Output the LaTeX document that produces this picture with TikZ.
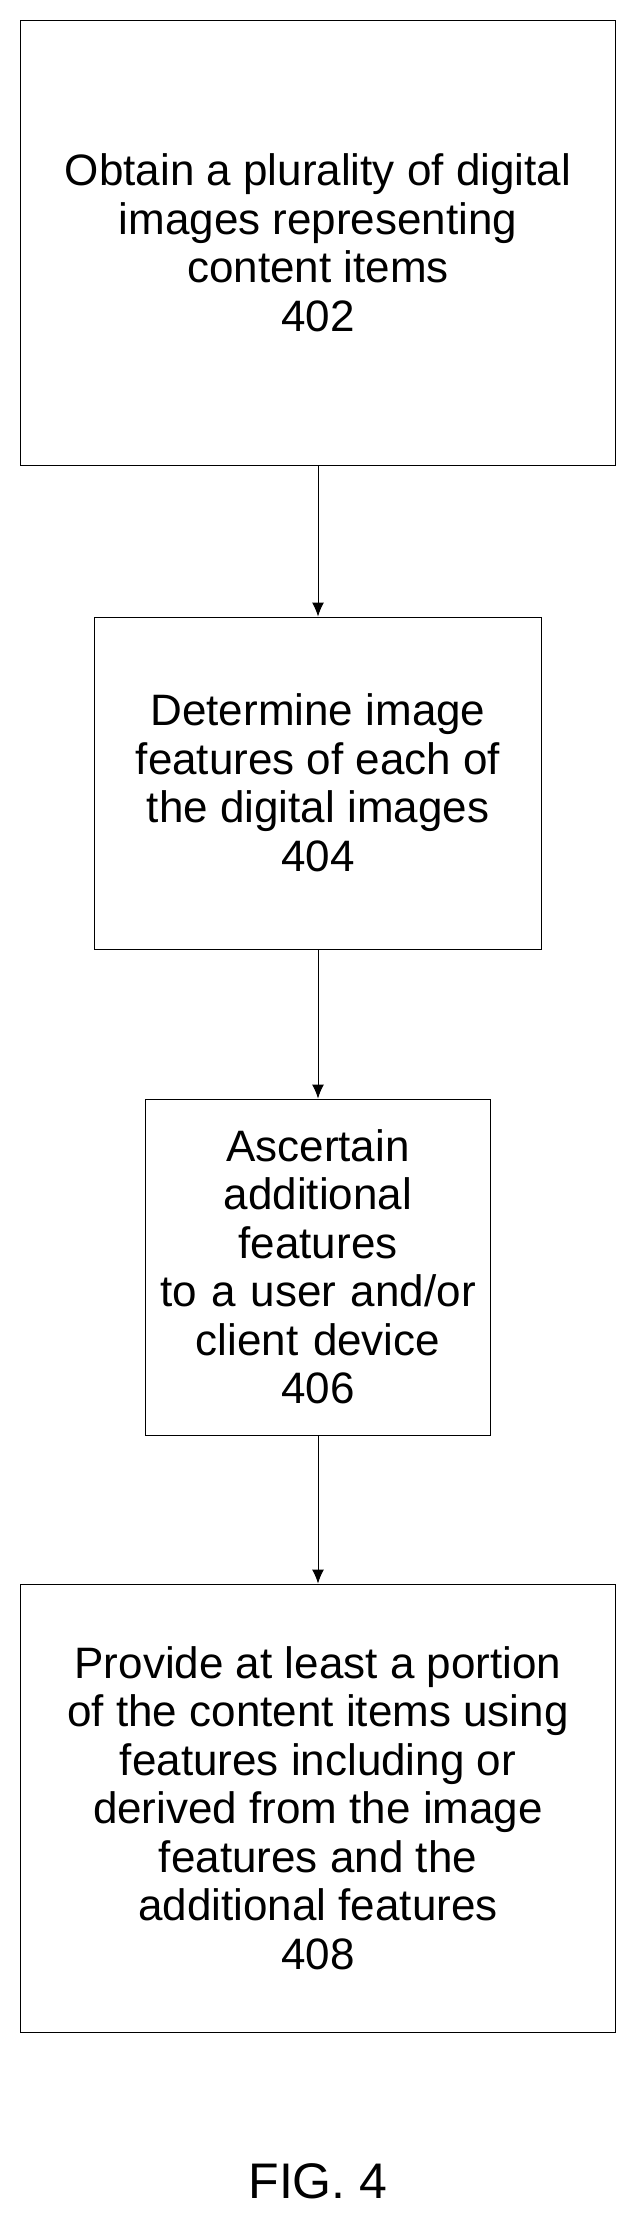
\documentclass[tikz,border=0pt]{standalone}
\usepackage{fontspec}
\setmainfont{Liberation Sans}
\usetikzlibrary{arrows.meta}
\begin{document}
\begin{tikzpicture}[x=1pt,y=-1pt,
    stepbox/.style={draw, line width=1pt, align=center, inner sep=0pt,
        font=\fontsize{44}{48.5}\selectfont},
    flow/.style={-{Latex[length=14pt,width=12pt]}, line width=1pt}]

    \useasboundingbox (0,0) rectangle (641,2238);

    % Steps
    \node[stepbox, minimum width=595, minimum height=445] (obtain) at (318,243)
        {Obtain a plurality of digital\\images representing\\content items\\402};
    \node[stepbox, minimum width=447, minimum height=332] (determine) at (318,783)
        {Determine image\\features of each of\\the digital images\\404};
    \node[stepbox, text width=345, minimum height=336] (ascertain) at (318,1267)
        {Ascertain\\additional features\\to a user and/or\\client device\\406};
    \node[stepbox, minimum width=595, minimum height=448] (provide) at (318,1808)
        {Provide at least a portion\\of the content items using\\features including or\\derived from the image\\features and the\\additional features\\408};

    % Figure label
    \node[font=\fontsize{50}{50}\selectfont] (fig) at (318,2181) {FIG. 4};

    % Connectors
    \draw[flow] (obtain) -- (determine);
    \draw[flow] (determine) -- (ascertain);
    \draw[flow] (ascertain) -- (provide);

\end{tikzpicture}
\end{document}
